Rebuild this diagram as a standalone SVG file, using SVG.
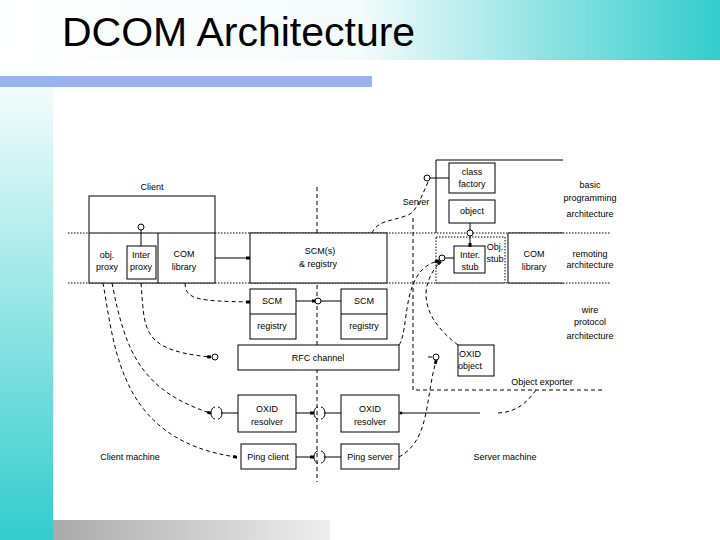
<svg xmlns="http://www.w3.org/2000/svg" width="720" height="540" viewBox="0 0 720 540">
<defs>
<linearGradient id="tg" x1="0" y1="0" x2="1" y2="0"><stop offset="0" stop-color="#fff"/><stop offset="0.5" stop-color="#f4fbfb"/><stop offset="1" stop-color="#33cccc"/></linearGradient>
<linearGradient id="lg" x1="0" y1="0" x2="0" y2="1"><stop offset="0" stop-color="#ffffff"/><stop offset="1" stop-color="#33cccc"/></linearGradient>
<linearGradient id="bg" x1="0" y1="0" x2="1" y2="0"><stop offset="0" stop-color="#aaaaaa"/><stop offset="1" stop-color="#eeeeee"/></linearGradient>
<marker id="a" markerWidth="4" markerHeight="4" refX="3" refY="2" orient="auto"><rect x="0" y="0.5" width="4" height="3" fill="#000"/></marker>
</defs>
<style>
.b{fill:#fff;stroke:#000;stroke-width:1}
.l{fill:none;stroke:#000;stroke-width:1}
.d{fill:none;stroke:#000;stroke-width:1;stroke-dasharray:4,3}
.o{fill:none;stroke:#000;stroke-width:1;stroke-dasharray:1.5,1.5}
.c{fill:#fff;stroke:#000;stroke-width:1}
text{font-family:"Liberation Sans",Arial,sans-serif;font-size:9px;text-anchor:middle;fill:#000}
</style>
<rect width="720" height="540" fill="#fff"/>
<rect x="0" y="0" width="720" height="60" fill="url(#tg)"/>
<rect x="0" y="60" width="53" height="480" fill="url(#lg)"/>
<rect x="0" y="76" width="372" height="11" fill="#99b3ee"/>
<rect x="53" y="520" width="277" height="20" fill="url(#bg)"/>
<text x="62" y="46" style="font-size:41px;text-anchor:start;fill:#000">DCOM Architecture</text>

<g id="guides">
<line class="o" x1="68" y1="233" x2="610" y2="233"/>
<line class="o" x1="68" y1="283" x2="610" y2="283"/>
<line class="d" x1="317" y1="187" x2="317" y2="482"/>
<path class="d" d="M413 218 V390 H605"/>
<path class="l" d="M436 233 V160 H563"/>
<rect class="o" x="436" y="237" width="69" height="46"/>
</g>

<g id="client">
<rect class="b" x="89" y="196" width="126" height="87"/>
<line class="l" x1="89" y1="233" x2="215" y2="233"/>
<line class="l" x1="158" y1="233" x2="158" y2="283"/>
<text x="152" y="190">Client</text>
<text x="107" y="258">obj.</text><text x="107" y="270">proxy</text>
<rect class="b" x="127" y="246" width="29" height="33"/>
<text x="141" y="258">Inter</text><text x="141" y="270">proxy</text>
<line class="l" x1="141" y1="230" x2="141" y2="246"/>
<circle class="c" cx="141" cy="227" r="3"/>
<text x="184" y="257">COM</text><text x="184" y="270">library</text>
</g>

<g id="scms"><rect class="b" x="250" y="233" width="137" height="50"/><text x="320" y="254">SCM(s)</text><text x="318" y="267">&amp; registry</text></g>
<g id="scm1"><rect class="b" x="250" y="289" width="46" height="50"/><line class="l" x1="250" y1="314" x2="296" y2="314"/><text x="272" y="304">SCM</text><text x="272" y="329">registry</text></g>
<g id="scm2"><rect class="b" x="341" y="289" width="46" height="50"/><line class="l" x1="341" y1="314" x2="387" y2="314"/><text x="364" y="304">SCM</text><text x="364" y="329">registry</text></g>
<g id="rfc"><rect class="b" x="238" y="345" width="161" height="25"/><text x="318" y="361">RFC channel</text></g>
<g id="oxr1"><rect class="b" x="238" y="395" width="58" height="37"/><text x="267" y="412">OXID</text><text x="267" y="425">resolver</text></g>
<g id="oxr2"><rect class="b" x="341" y="395" width="58" height="37"/><text x="370" y="412">OXID</text><text x="370" y="425">resolver</text></g>
<g id="pingc"><rect class="b" x="241" y="444" width="55" height="25"/><text x="268" y="460">Ping client</text></g>
<g id="pings"><rect class="b" x="341" y="444" width="58" height="25"/><text x="370" y="460">Ping server</text></g>
<g id="cf"><rect class="b" x="449" y="163" width="46" height="30"/><text x="472" y="175">class</text><text x="472" y="187">factory</text></g>
<g id="obj"><rect class="b" x="449" y="200" width="46" height="23"/><text x="472" y="214">object</text></g>
<g id="istub"><rect class="b" x="454" y="246" width="31" height="27"/><text x="470" y="258">Inter.</text><text x="470" y="270">stub</text><text x="495" y="250">Obj.</text><text x="495" y="262">stub</text></g>
<g id="comlib2"><path class="b" d="M563 233 H508 V283 H563"/><text x="534" y="257">COM</text><text x="534" y="270">library</text></g>
<g id="oxobj"><rect class="b" x="458" y="345" width="36" height="31"/><text x="470" y="357">OXID</text><text x="470" y="369">object</text></g>

<g id="labels">
<text x="416" y="205">Server</text>
<text x="542" y="385">Object exporter</text>
<text x="130" y="460">Client machine</text>
<text x="505" y="460">Server machine</text>
<text x="590" y="188">basic</text><text x="590" y="201">programming</text><text x="590" y="217">architecture</text>
<text x="590" y="257">remoting</text><text x="590" y="268">architecture</text>
<text x="590" y="313">wire</text><text x="590" y="325">protocol</text><text x="590" y="339">architecture</text>
</g>

<g id="connectors">
<line class="l" x1="215" y1="258" x2="249" y2="258" marker-end="url(#a)"/>
<path class="d" d="M185 283 C185 300 200 301 249 302" marker-end="url(#a)"/>
<line class="l" x1="296" y1="301" x2="315" y2="301" marker-end="url(#a)"/>
<line class="l" x1="321" y1="301" x2="341" y2="301"/>
<circle class="c" cx="318" cy="301" r="3"/>
<path class="d" d="M141 283 C145 330 140 350 210 357" marker-end="url(#a)"/>
<circle class="c" cx="215" cy="357" r="3"/>
<path class="d" d="M112 283 C125 350 140 390 210 413" marker-end="url(#a)"/>
<path class="d" d="M103 283 C115 350 120 440 236 457" marker-end="url(#a)"/>
<path class="l" d="M215 407 a4 6 0 0 0 0 12 M218 407 a4 6 0 0 1 0 12"/>
<line class="l" x1="221" y1="413" x2="238" y2="413"/>
<line class="l" x1="296" y1="413" x2="313" y2="413" marker-end="url(#a)"/>
<path class="l" d="M318 407 a4 6 0 0 0 0 12 M321 407 a4 6 0 0 1 0 12"/>
<line class="l" x1="324" y1="413" x2="341" y2="413"/>
<line class="l" x1="296" y1="457" x2="313" y2="457" marker-end="url(#a)"/>
<path class="l" d="M318 451 a4 6 0 0 0 0 12 M321 451 a4 6 0 0 1 0 12"/>
<line class="l" x1="324" y1="457" x2="341" y2="457"/>
<path class="l" d="M401 413 H480"/>
<circle cx="401" cy="413" r="1.5"/>
<path class="d" d="M498 413 C515 412 525 405 536 390"/>
<path class="d" d="M372 233 C378 220 390 222 408 215 C415 212 418 205 428 182"/>
<line class="l" x1="430" y1="178" x2="449" y2="178"/>
<circle class="c" cx="427" cy="178" r="3"/>
<line class="l" x1="470" y1="223" x2="470" y2="230"/>
<circle class="c" cx="470" cy="233" r="3"/>
<line class="l" x1="470" y1="236" x2="470" y2="246" marker-end="url(#a)"/>
<line class="l" x1="445" y1="258" x2="454" y2="258"/>
<circle class="c" cx="442" cy="258" r="3"/>
<path class="d" d="M399 345 C410 330 400 270 438 261" marker-end="url(#a)"/>
<path class="d" d="M458 345 C425 320 415 290 440 262" marker-end="url(#a)"/>
<circle class="c" cx="436" cy="357" r="3"/>
<line class="l" x1="428" y1="357" x2="432" y2="357"/>
<path class="d" d="M399 457 C430 440 425 400 436 361" marker-end="url(#a)"/>
</g>
</svg>
